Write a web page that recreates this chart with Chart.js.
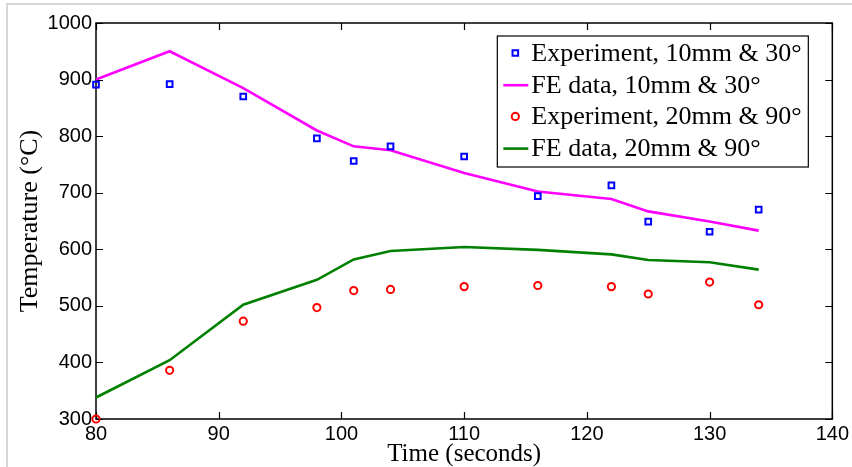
<!DOCTYPE html>
<html>
<head>
<meta charset="utf-8">
<script src="https://cdn.jsdelivr.net/npm/chart.js@4/dist/chart.umd.min.js"></script>
<style>
  html, body { margin: 0; padding: 0; background: #fff; }
  #wrap { position: relative; width: 852px; height: 467px; overflow: hidden; }
  #frame { position: absolute; left: 6px; top: 3px; width: 900px; height: 500px;
           border-left: 2px solid #d6d6d6; border-top: 2px solid #d6d6d6; }
  canvas { position: absolute; left: 0; top: 0; }
</style>
</head>
<body>
<div id="wrap">
  <div id="frame"></div>
  <canvas id="c" width="852" height="467"></canvas>
</div>
<script>
// ---- data ----
const times = [80, 86, 92, 98, 101, 104, 110, 116, 122, 125, 130, 134];
const exp10 = [891, 892, 870, 796, 756, 782, 764, 694, 713, 649, 631, 670];
const fe10  = [900, 950, 885, 810, 782, 775, 735, 702, 689, 667, 649, 633];
const exp20 = [300, 386, 473, 497, 527, 529, 534, 536, 534, 521, 542, 502];
const fe20  = [338, 404, 502, 546, 582, 597, 604, 599, 591, 581, 577, 564];
const seriesLabels = [
  'Experiment, 10mm & 30°',
  'FE data, 10mm & 30°',
  'Experiment, 20mm & 90°',
  'FE data, 20mm & 90°'
];
const xTicks = [80, 90, 100, 110, 120, 130, 140];
const yTicks = [300, 400, 500, 600, 700, 800, 900, 1000];

const pts = (ys) => times.map((t, i) => ({ x: t, y: ys[i] }));

const SERIF = '"Liberation Serif", "Times New Roman", serif';
const SANS = '"Liberation Sans", Arial, sans-serif';

// Box with inward ticks on all four sides
const boxPlugin = {
  id: 'box',
  beforeDatasetsDraw(chart) {
    const { ctx, chartArea: a, scales } = chart;
    const x = scales.x, y = scales.y;
    const tl = 7;
    ctx.save();
    ctx.strokeStyle = '#000';
    ctx.lineWidth = 1.5;
    ctx.beginPath();
    ctx.rect(a.left, a.top, a.right - a.left, a.bottom - a.top);
    ctx.stroke();
    ctx.lineWidth = 1.2;
    ctx.beginPath();
    xTicks.forEach(v => {
      const px = Math.round(x.getPixelForValue(v)) + 0.5;
      ctx.moveTo(px, a.bottom); ctx.lineTo(px, a.bottom - tl);
      ctx.moveTo(px, a.top); ctx.lineTo(px, a.top + tl);
    });
    yTicks.forEach(v => {
      const py = Math.round(y.getPixelForValue(v)) + 0.5;
      ctx.moveTo(a.left, py); ctx.lineTo(a.left + tl, py);
      ctx.moveTo(a.right, py); ctx.lineTo(a.right - tl, py);
    });
    ctx.stroke();
    ctx.restore();
  }
};

// Boxed legend inside the plot area (top right)
const legendPlugin = {
  id: 'boxLegend',
  afterDatasetsDraw(chart) {
    const { ctx, chartArea: a } = chart;
    const right = a.right - 24, top = a.top + 13;
    const left = right - 311, bottom = top + 131;
    ctx.save();
    ctx.fillStyle = '#fff';
    ctx.fillRect(left, top, right - left, bottom - top);
    ctx.strokeStyle = '#000';
    ctx.lineWidth = 1.2;
    ctx.strokeRect(left, top, right - left, bottom - top);
    ctx.font = '26px ' + SERIF;
    ctx.textBaseline = 'middle';
    ctx.textAlign = 'left';
    const rowH = 31.7;
    chart.data.datasets.forEach((ds, i) => {
      const cy = top + 17 + i * rowH;
      const sx = left + 18;
      if (ds.showLine) {
        ctx.strokeStyle = ds.borderColor;
        ctx.lineWidth = ds.borderWidth;
        ctx.beginPath();
        ctx.moveTo(left + 6, cy + 0.5); ctx.lineTo(left + 31, cy + 0.5);
        ctx.stroke();
      } else {
        ctx.strokeStyle = ds.pointBorderColor;
        ctx.lineWidth = ds.pointBorderWidth;
        ctx.beginPath();
        if (ds.pointStyle === 'rect') {
          ctx.rect(sx - 2.8, cy - 2.8, 5.6, 5.6);
        } else {
          ctx.arc(sx, cy, ds.pointRadius, 0, Math.PI * 2);
        }
        ctx.stroke();
      }
      ctx.fillStyle = '#000';
      ctx.fillText(ds.label, left + 34, cy + 1);
    });
    ctx.restore();
  }
};

new Chart(document.getElementById('c'), {
  type: 'scatter',
  data: {
    datasets: [
      { label: seriesLabels[0], data: pts(exp10), showLine: false,
        pointStyle: 'rect', pointRadius: 4, pointBorderWidth: 2,
        pointBorderColor: '#0000ff', pointBackgroundColor: 'rgba(0,0,0,0)',
        borderColor: '#0000ff', clip: false },
      { label: seriesLabels[1], data: pts(fe10), showLine: true,
        borderColor: '#ff00ff', borderWidth: 2.6, pointRadius: 0, tension: 0, clip: false },
      { label: seriesLabels[2], data: pts(exp20), showLine: false,
        pointStyle: 'circle', pointRadius: 3.6, pointBorderWidth: 2,
        pointBorderColor: '#ff0000', pointBackgroundColor: 'rgba(0,0,0,0)',
        borderColor: '#ff0000', clip: false },
      { label: seriesLabels[3], data: pts(fe20), showLine: true,
        borderColor: '#008000', borderWidth: 2.6, pointRadius: 0, tension: 0, clip: false }
    ]
  },
  options: {
    responsive: false,
    animation: false,
    events: [],
    layout: { padding: { left: 10, top: 23, right: 18, bottom: 0 } },
    plugins: { legend: { display: false }, tooltip: { enabled: false } },
    scales: {
      x: {
        type: 'linear', min: 80, max: 140,
        afterBuildTicks: (s) => { s.ticks = xTicks.map(v => ({ value: v })); },
        afterFit: (s) => { s.height = 48; },
        grid: { display: false, drawTicks: false },
        border: { display: false },
        ticks: { color: '#000', font: { family: SANS, size: 20 }, padding: 3, maxRotation: 0, autoSkip: false,
                 callback: (v) => String(v) },
        title: { display: true, text: 'Time (seconds)', color: '#000',
                 font: { family: SERIF, size: 25, lineHeight: 1 }, padding: { top: 0, bottom: 0 } }
      },
      y: {
        type: 'linear', min: 300, max: 1000,
        afterBuildTicks: (s) => { s.ticks = yTicks.map(v => ({ value: v })); },
        afterFit: (s) => { s.width = 86; },
        grid: { display: false, drawTicks: false },
        border: { display: false },
        ticks: { color: '#000', font: { family: SANS, size: 20 }, padding: 4, autoSkip: false,
                 callback: (v) => String(v) },
        title: { display: true, text: 'Temperature (°C)', color: '#000',
                 font: { family: SERIF, size: 26, lineHeight: 1 }, padding: { top: 7, bottom: 0 } }
      }
    }
  },
  plugins: [boxPlugin, legendPlugin]
});
</script>
</body>
</html>
